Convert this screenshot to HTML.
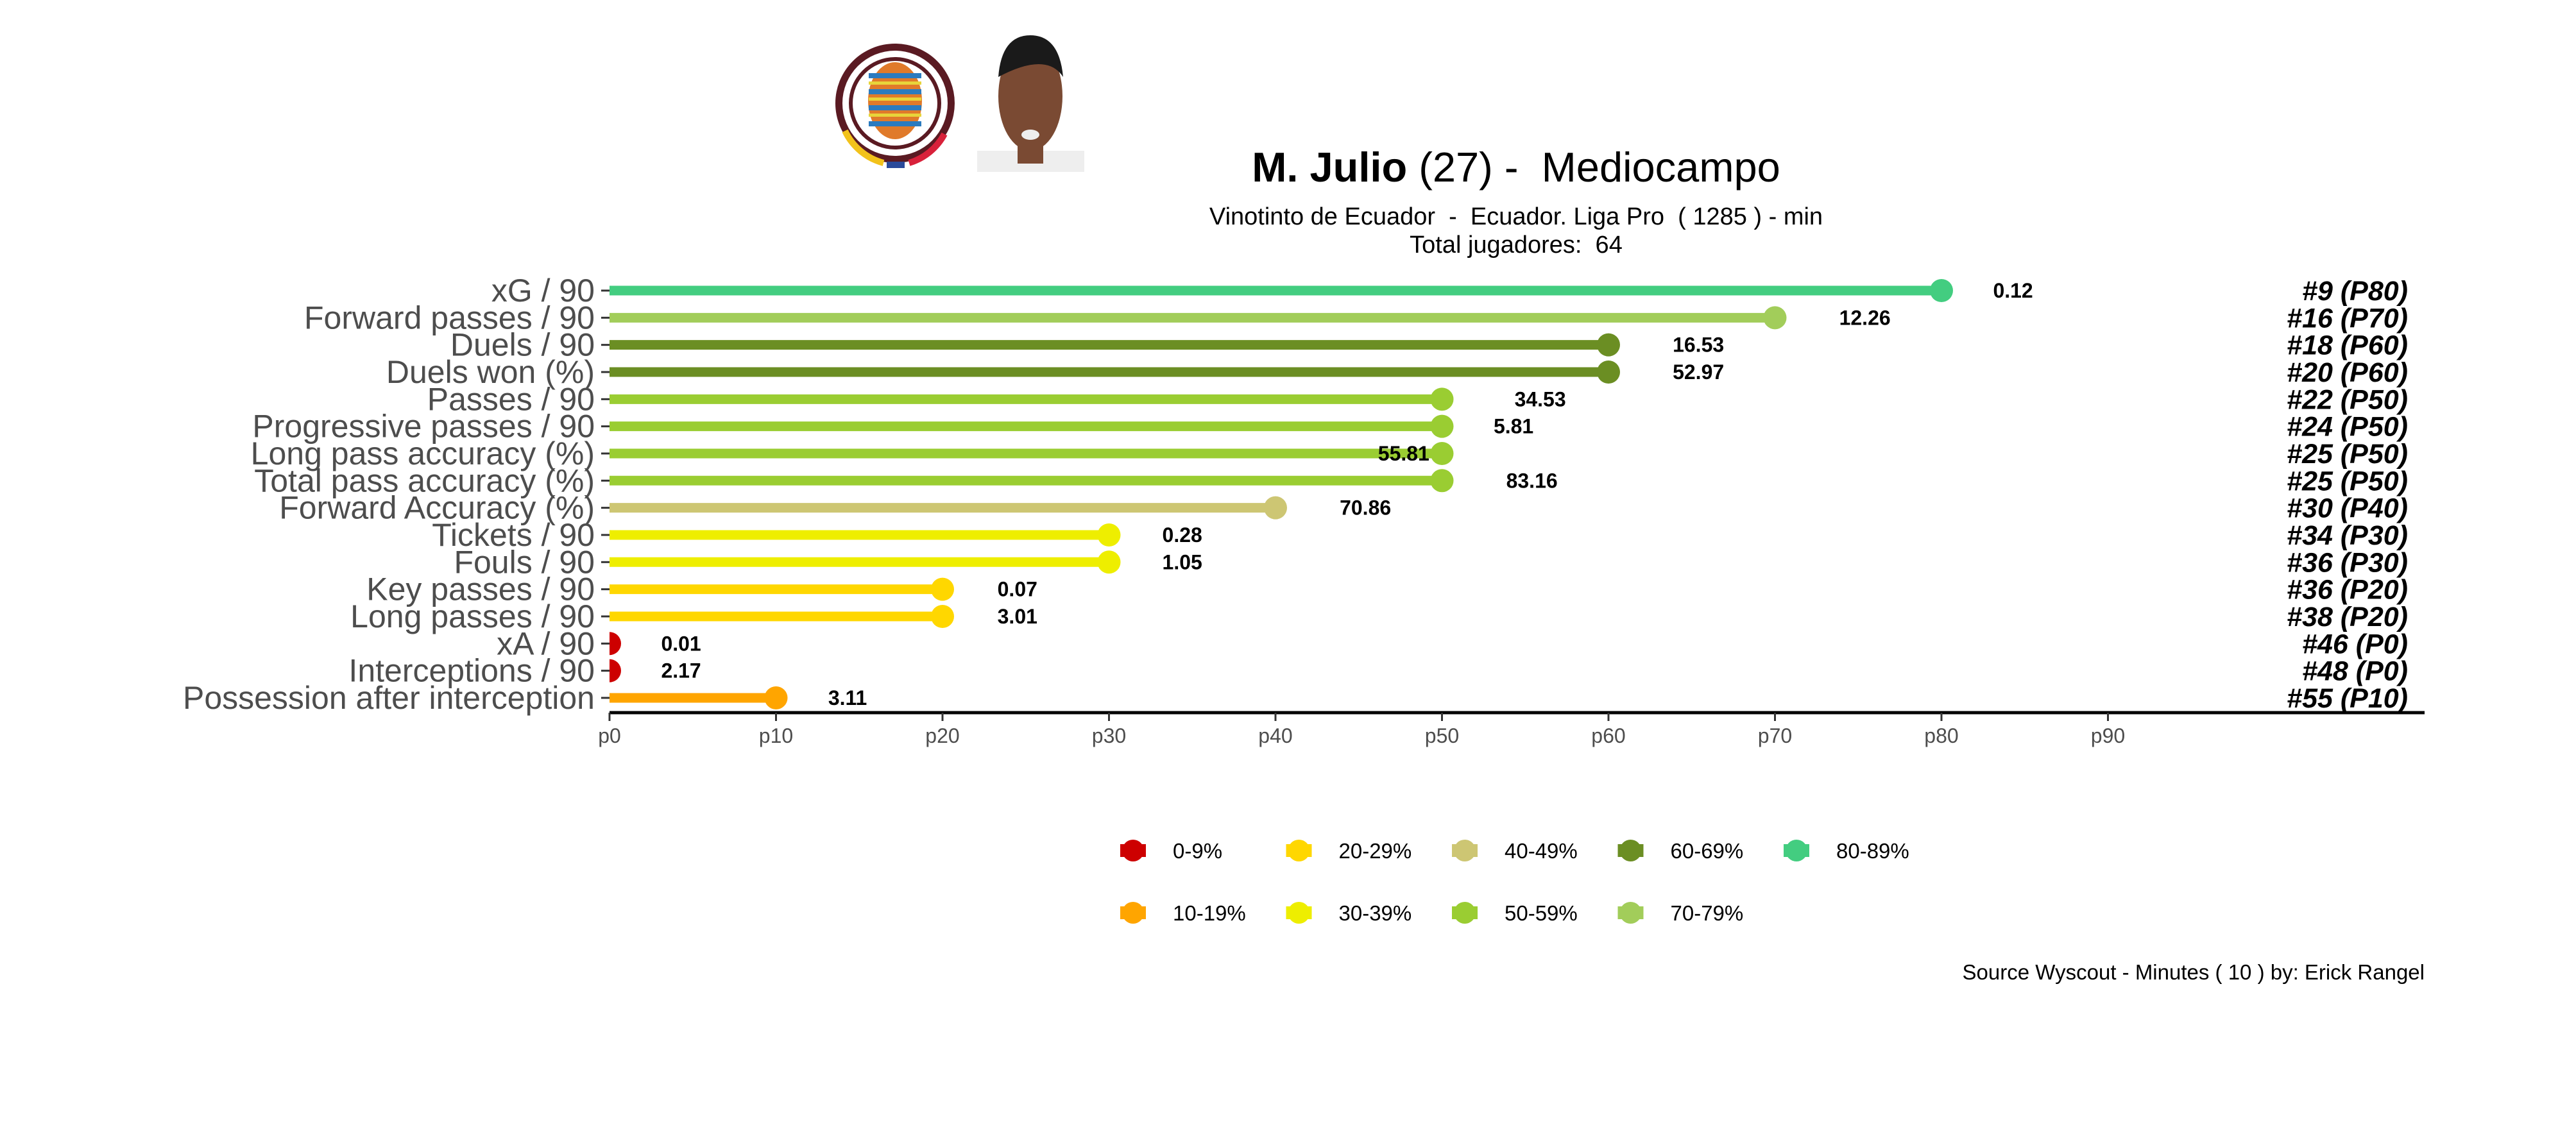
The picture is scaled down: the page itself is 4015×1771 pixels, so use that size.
<!DOCTYPE html>
<html><head><meta charset="utf-8"><style>
html,body{margin:0;padding:0;background:#fff;}
svg{display:block;font-family:"Liberation Sans",Arial,sans-serif;}
svg text{white-space:pre;}
</style></head><body>
<svg id="chart" width="4015" height="1771" viewBox="0 0 4015 1771" xmlns="http://www.w3.org/2000/svg">
<defs><clipPath id="plotclip"><rect x="950" y="380" width="3000" height="740"/></clipPath></defs>
<g>
<circle cx="1395" cy="161" r="93" fill="#5a1a22"/>
<circle cx="1395" cy="161" r="82" fill="#fff"/>
<circle cx="1395" cy="161" r="72" fill="#5a1a22"/>
<circle cx="1395" cy="161" r="66" fill="#fff"/>
<ellipse cx="1395" cy="157" rx="42" ry="60" fill="#e07a2a"/>
<g fill="#2b7bbf"><rect x="1354" y="114" width="82" height="8"/><rect x="1354" y="139" width="82" height="8"/><rect x="1354" y="164" width="82" height="8"/><rect x="1354" y="189" width="82" height="8"/></g>
<g fill="#e8d43a"><rect x="1354" y="127" width="82" height="5"/><rect x="1354" y="152" width="82" height="5"/><rect x="1354" y="177" width="82" height="5"/></g>
<path d="M1317 204 A93 93 0 0 0 1377 254" stroke="#f2c21b" stroke-width="10" fill="none"/>
<path d="M1382 257 L1410 257" stroke="#2a4a9a" stroke-width="10"/>
<path d="M1417 254 A93 93 0 0 0 1472 209" stroke="#d8213a" stroke-width="10" fill="none"/>
</g>
<g>
<rect x="1523" y="235" width="167" height="33" fill="#eeeeee"/>
<ellipse cx="1606" cy="150" rx="50" ry="85" fill="#7a4a33"/>
<path d="M1556 120 Q1561 55 1606 55 Q1651 55 1657 120 Q1631 80 1556 120Z" fill="#1a1a1a"/>
<rect x="1586" y="225" width="40" height="30" fill="#7a4a33"/>
<ellipse cx="1606" cy="210" rx="14" ry="8" fill="#eee"/>
</g>
<text x="2363" y="283" text-anchor="middle" font-size="65" fill="#000"><tspan font-weight="bold">M. Julio</tspan> (27) -  Mediocampo</text>
<text x="2363" y="350" text-anchor="middle" font-size="38" fill="#000">Vinotinto de Ecuador  -  Ecuador. Liga Pro  ( 1285 ) - min</text>
<text x="2363" y="394" text-anchor="middle" font-size="38" fill="#000">Total jugadores:  64</text>
<g id="plot"></g>
<g id="legend"></g>
<text x="3779" y="1527" text-anchor="end" font-size="33" fill="#000">Source Wyscout - Minutes ( 10 ) by: Erick Rangel</text>
</svg>
<script>
const metrics = ["xG / 90","Forward passes / 90","Duels / 90","Duels won (%)","Passes / 90","Progressive passes / 90","Long pass accuracy (%)","Total pass accuracy (%)","Forward Accuracy (%)","Tickets / 90","Fouls / 90","Key passes / 90","Long passes / 90","xA / 90","Interceptions / 90","Possession after interception"];
const percentiles = [80,70,60,60,50,50,50,50,40,30,30,20,20,0,0,10];
const values = ["0.12","12.26","16.53","52.97","34.53","5.81","55.81","83.16","70.86","0.28","1.05","0.07","3.01","0.01","2.17","3.11"];
const ranks = ["#9 (P80)","#16 (P70)","#18 (P60)","#20 (P60)","#22 (P50)","#24 (P50)","#25 (P50)","#25 (P50)","#30 (P40)","#34 (P30)","#36 (P30)","#36 (P20)","#38 (P20)","#46 (P0)","#48 (P0)","#55 (P10)"];
const labelNudge = [4.3,5.4,5.4,5.4,5.9,4.3,-2.3,5.4,5.4,4.4,4.4,4.5,4.5,4.3,4.3,4.3];
const tickLabels = ["p0","p10","p20","p30","p40","p50","p60","p70","p80","p90"];
const legendLabels = ["0-9%","10-19%","20-29%","30-39%","40-49%","50-59%","60-69%","70-79%","80-89%"];
const legendColors = ["#cd0000","#ffa500","#ffd700","#eeee00","#cdc673","#9acd32","#6b8e23","#a2cd5a","#43cd80"];

const NS="http://www.w3.org/2000/svg";
const x = p => 950 + p*25.95;
const y = i => 453 + i*42.33;
const colorFor = p => legendColors[Math.min(8,Math.floor(p/10))];
function mk(tag, attrs, parent){const e=document.createElementNS(NS,tag);for(const k in attrs)e.setAttribute(k,attrs[k]);parent.appendChild(e);return e;}
const plot=document.getElementById('plot');
const clipG=mk('g',{'clip-path':'url(#plotclip)'},plot);
metrics.forEach((m,i)=>{
  const c=colorFor(percentiles[i]);
  const lab=mk('text',{x:927,y:y(i)+17,'text-anchor':'end','font-size':50,fill:'#4d4d4d'},plot);
  lab.textContent=m;
  
  
  const t=mk('line',{x1:937,x2:950,y1:y(i),y2:y(i),stroke:'#333','stroke-width':3},plot);
  
  
  const bar=mk('line',{x1:x(0),x2:x(percentiles[i]),y1:y(i),y2:y(i),stroke:c,'stroke-width':15},clipG);
  
  
  const dot=mk('circle',{cx:x(percentiles[i]),cy:y(i),r:18,fill:c},clipG);
  
  
  const v=mk('text',{x:x(percentiles[i]+labelNudge[i]),y:y(i)+11,'text-anchor':'middle','font-size':32,'font-weight':'bold',fill:'#000'},plot);
  v.textContent=values[i];
  
  
  const r=mk('text',{x:3753,y:y(i)+15,'text-anchor':'end','font-size':43,'font-weight':'bold','font-style':'italic',fill:'#000'},plot);
  r.textContent=ranks[i];
  
  
});
const ax=mk('line',{x1:950,x2:3779,y1:1111,y2:1111,stroke:'#000','stroke-width':5},plot);


tickLabels.forEach((t,k)=>{
  const tk=mk('line',{x1:x(k*10),x2:x(k*10),y1:1111,y2:1124,stroke:'#333','stroke-width':3},plot);
  
  
  const tl=mk('text',{x:x(k*10),y:1158,'text-anchor':'middle','font-size':32,fill:'#4d4d4d'},plot);
  tl.textContent=t;
  
  
});
const leg=document.getElementById('legend');
legendLabels.forEach((l,k)=>{
  const col=Math.floor(k/2), row=k%2;
  const lx=1766+col*258.5, ly=1326+row*97;
  const g=mk('g',{},leg);
  
  
  mk('rect',{x:lx-20,y:ly-10,width:40,height:20,fill:legendColors[k]},g);
  mk('circle',{cx:lx,cy:ly,r:17,fill:legendColors[k]},g);
  const tx=mk('text',{x:lx+62,y:ly+12,'font-size':33,fill:'#000'},g);
  tx.textContent=l;
});
</script>
</body></html>
